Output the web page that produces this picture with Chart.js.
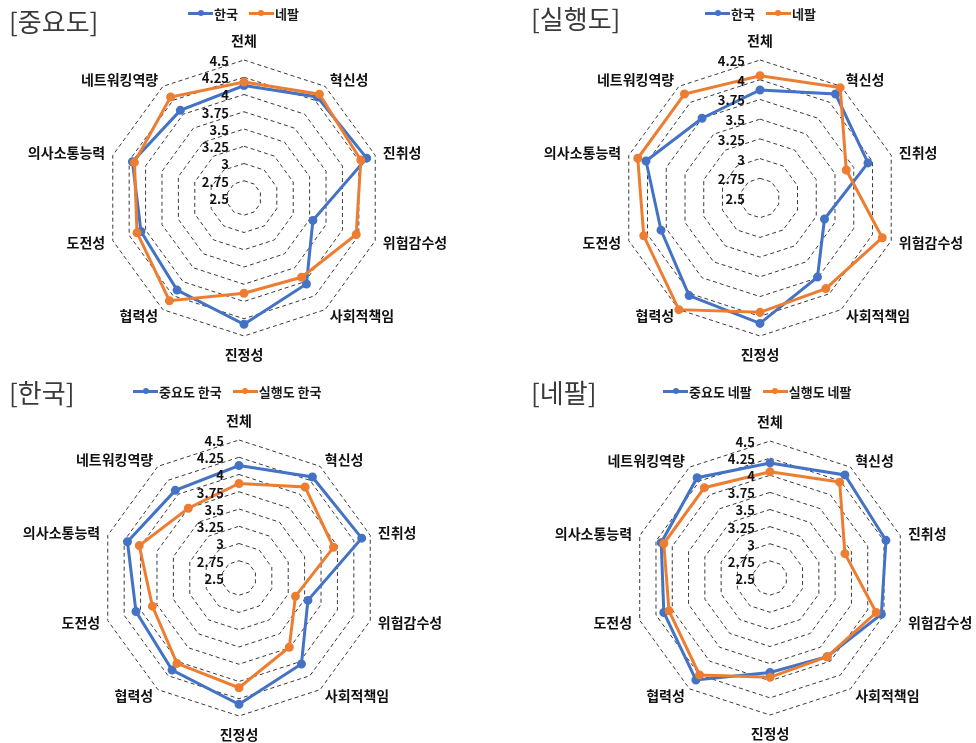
<!DOCTYPE html>
<html>
<head>
<meta charset="utf-8">
<script src="https://cdn.jsdelivr.net/npm/chart.js@4.4.1/dist/chart.umd.min.js"></script>
<style>
  html, body { margin: 0; padding: 0; background: #fff; }
  #wrap { position: relative; width: 976px; height: 743px; overflow: hidden; background: #fff; }
  canvas { position: absolute; }
  .title { position: absolute; font-family: "Noto Sans CJK KR", sans-serif; font-size: 26px; line-height: 26px; font-weight: 400; color: #3a3a3a; white-space: nowrap; }
  .legend { position: absolute; display: flex; align-items: center; height: 20px; font-family: "Noto Sans CJK KR", sans-serif; font-size: 13px; font-weight: 700; color: #1a1a1a; white-space: nowrap; }
  .mk { position: relative; width: 25px; height: 20px; margin-right: 1px; }
  .mk .ln { position: absolute; left: 0; right: 0; top: 9px; height: 2.5px; }
  .mk .dt { position: absolute; left: 9.5px; top: 7.2px; width: 6px; height: 6px; border-radius: 50%; }
  .it { display: flex; align-items: center; margin-right: 11px; }
</style>
</head>
<body>
<div id="wrap"></div>
<script>
// ---------------- data ----------------
const categories = ['전체', '혁신성', '진취성', '위험감수성', '사회적책임', '진정성', '협력성', '도전성', '의사소통능력', '네트워킹역량'];

const importanceKorea   = [4.13, 4.31, 4.37, 3.55, 4.04, 4.33, 4.15, 4.07, 4.20, 4.07];
const importanceNepal   = [4.18, 4.36, 4.28, 4.21, 3.92, 3.88, 4.34, 4.13, 4.17, 4.31];
const performanceKorea  = [3.87, 4.13, 3.94, 3.36, 3.74, 4.09, 4.03, 3.82, 4.02, 3.75];
const performanceNepal  = [4.05, 4.23, 3.65, 4.13, 3.92, 3.95, 4.25, 4.05, 4.13, 4.13];

const ticksTo450 = [2.5, 2.75, 3, 3.25, 3.5, 3.75, 4, 4.25, 4.5];
const ticksTo425 = [2.5, 2.75, 3, 3.25, 3.5, 3.75, 4, 4.25];

const chartTitles = ['[중요도]', '[실행도]', '[한국]', '[네팔]'];
const legendKoreaNepal = ['한국', '네팔'];
const legendKorea = ['중요도 한국', '실행도 한국'];
const legendNepal = ['중요도 네팔', '실행도 네팔'];

const BLUE = '#4472C4';
const ORANGE = '#ED7D31';
const FONT = '"Noto Sans CJK KR", "Noto Sans", sans-serif';

// ---------------- helpers ----------------
const textPlugin = {
  id: 'radarText',
  beforeDatasetsDraw(chart) {
    const s = chart.scales.r;
    const ctx = chart.ctx;
    ctx.save();
    ctx.fillStyle = '#111';
    ctx.font = 'bold 14px ' + FONT;
    chart.data.labels.forEach((lab, i) => {
      const ang = s.getIndexAngle(i);
      const sn = Math.sin(ang);
      const vertical = Math.abs(sn) < 0.01;
      const p = s.getPointPosition(i, s.drawingArea + (vertical ? 19 : 8));
      ctx.textAlign = vertical ? 'center' : (sn > 0 ? 'left' : 'right');
      ctx.textBaseline = 'middle';
      ctx.fillText(lab, p.x, p.y);
    });
    ctx.restore();
  },
  afterDatasetsDraw(chart, args, opts) {
    const s = chart.scales.r;
    const ctx = chart.ctx;
    ctx.save();
    ctx.fillStyle = '#111';
    ctx.font = 'bold 13px ' + FONT;
    ctx.textAlign = 'right';
    ctx.textBaseline = 'middle';
    opts.tickValues.forEach(v => {
      const d = s.getDistanceFromCenterForValue(v);
      ctx.fillText(String(v), s.xCenter - 15, s.yCenter - d + 1);
    });
    ctx.restore();
  }
};

const wrap = document.getElementById('wrap');

function addTitle(text, x, y) {
  const d = document.createElement('div');
  d.className = 'title';
  d.textContent = text;
  d.style.left = x + 'px';
  d.style.top = y + 'px';
  wrap.appendChild(d);
}

function addLegend(labels, colors, x, cy) {
  const d = document.createElement('div');
  d.className = 'legend';
  d.style.left = x + 'px';
  d.style.top = (cy - 10) + 'px';
  labels.forEach((lab, i) => {
    const it = document.createElement('div');
    it.className = 'it';
    const mk = document.createElement('div');
    mk.className = 'mk';
    const ln = document.createElement('div');
    ln.className = 'ln';
    ln.style.background = colors[i];
    const dt = document.createElement('div');
    dt.className = 'dt';
    dt.style.background = colors[i];
    mk.appendChild(ln); mk.appendChild(dt);
    const tx = document.createElement('span');
    tx.textContent = lab;
    it.appendChild(mk); it.appendChild(tx);
    d.appendChild(it);
  });
  wrap.appendChild(d);
}

function makeRadar(left, top, cx, cy, R, seriesA, seriesB, labels, tickValues) {
  const W = 488, H = 372;
  const cv = document.createElement('canvas');
  cv.width = W; cv.height = H;
  cv.style.left = left + 'px';
  cv.style.top = top + 'px';
  cv.style.width = W + 'px';
  cv.style.height = H + 'px';
  wrap.appendChild(cv);
  const size = 2 * R + 1;
  const pad = { left: cx - R, top: cy - R, right: W - (cx - R) - size, bottom: H - (cy - R) - size };
  const mkDs = (label, data, color, order) => ({
    label, data, order,
    borderColor: color, backgroundColor: color,
    pointBackgroundColor: color, pointBorderColor: color,
    borderWidth: 3, pointRadius: 3, pointHoverRadius: 3,
    fill: false, tension: 0
  });
  new Chart(cv, {
    type: 'radar',
    data: {
      labels: categories,
      datasets: [
        mkDs(labels[0], seriesA, BLUE, 1),
        mkDs(labels[1], seriesB, ORANGE, 0)
      ]
    },
    options: {
      responsive: false,
      animation: false,
      devicePixelRatio: 1,
      layout: { padding: pad },
      plugins: {
        legend: { display: false },
        title: { display: false },
        tooltip: { enabled: false },
        radarText: { tickValues }
      },
      scales: {
        r: {
          min: tickValues[0],
          max: tickValues[tickValues.length - 1],
          ticks: { display: false, stepSize: 0.25 },
          pointLabels: { display: false },
          angleLines: { display: false },
          grid: { circular: false, color: '#3a3a3a', lineWidth: 1 },
          border: { dash: [4, 3] }
        }
      }
    },
    plugins: [textPlugin]
  });
}

// ---------------- build ----------------
makeRadar(0, 0, 244, 198, 138, importanceKorea, importanceNepal, legendKoreaNepal, ticksTo450);
makeRadar(488, 0, 272, 198, 138, performanceKorea, performanceNepal, legendKoreaNepal, ticksTo425);
makeRadar(0, 372, 239, 206, 138, importanceKorea, performanceKorea, legendKorea, ticksTo450);
makeRadar(488, 372, 282, 206, 137, importanceNepal, performanceNepal, legendNepal, ticksTo450);

addTitle(chartTitles[0], 9, 8);
addTitle(chartTitles[1], 531, 5);
addTitle(chartTitles[2], 9, 379);
addTitle(chartTitles[3], 531, 379);

addLegend(legendKoreaNepal, [BLUE, ORANGE], 188, 13);
addLegend(legendKoreaNepal, [BLUE, ORANGE], 705, 13);
addLegend(legendKorea, [BLUE, ORANGE], 133, 391);
addLegend(legendNepal, [BLUE, ORANGE], 663, 391);
</script>
</body>
</html>
